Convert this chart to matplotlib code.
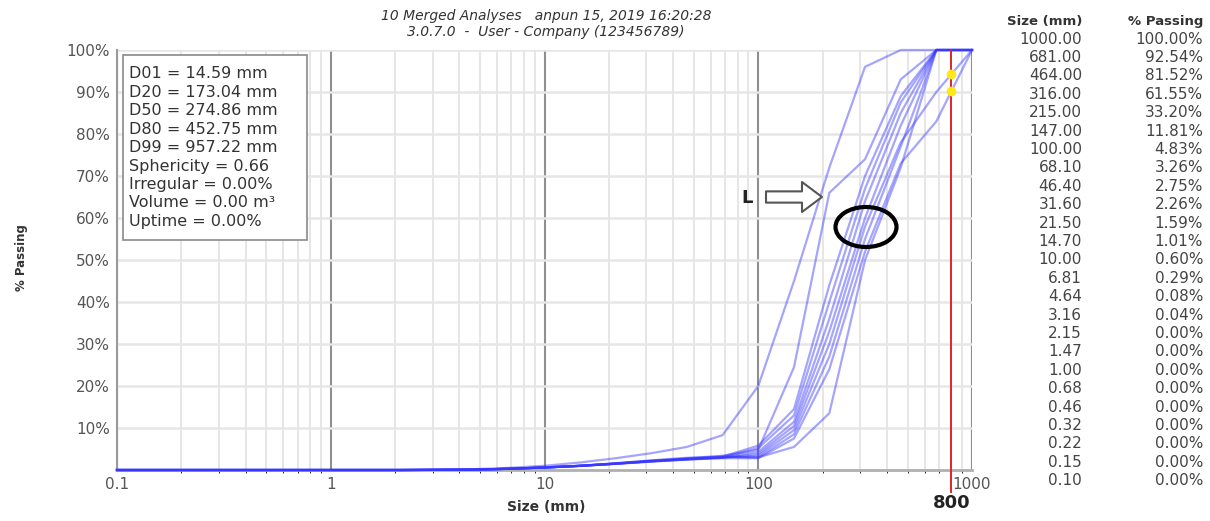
import numpy as np
import matplotlib
matplotlib.use("Agg")
from matplotlib import pyplot as plt
from matplotlib.patches import Rectangle, Ellipse

# sieve sizes (mm), fine to coarse
sizes = [0.10, 0.15, 0.22, 0.32, 0.46, 0.68, 1.00, 1.47, 2.15, 3.16, 4.64, 6.81,
         10.0, 14.7, 21.5, 31.6, 46.4, 68.1, 100, 147, 215, 316, 464, 681, 1000]

# % passing for each of the merged analyses (same order as sizes)
zero_tail = [0, 0, 0, 0, 0, 0, 0, 0, 0]
curve_a = zero_tail + [0.10, 0.20, 0.50, 1.00, 1.80, 2.80, 4.00, 5.50, 8.30, 20.0, 45.0, 72.0, 96.0, 100, 100, 100]
curve_b = zero_tail + [0.04, 0.10, 0.30, 0.60, 1.00, 1.60, 2.20, 2.80, 3.40, 4.80, 24.5, 66.0, 74.0, 93.0, 100, 100]
curve_c = zero_tail + [0.04, 0.08, 0.30, 0.60, 1.00, 1.50, 2.10, 2.60, 3.20, 5.80, 14.5, 44.0, 70.0, 89.0, 100, 100]
curve_d = zero_tail + [0.03, 0.07, 0.28, 0.55, 0.95, 1.45, 2.00, 2.50, 3.00, 5.20, 13.0, 40.0, 67.0, 87.5, 100, 100]
curve_e = zero_tail + [0.04, 0.08, 0.30, 0.60, 1.00, 1.50, 2.10, 2.60, 3.00, 4.30, 11.5, 36.0, 64.0, 85.0, 100, 100]
curve_f = zero_tail + [0.04, 0.08, 0.30, 0.60, 1.00, 1.50, 2.00, 2.50, 2.90, 3.80, 10.5, 33.0, 60.0, 82.0, 100, 100]
curve_g = zero_tail + [0.04, 0.08, 0.29, 0.58, 0.98, 1.50, 2.10, 2.60, 3.00, 3.40, 9.50, 30.0, 58.0, 78.0, 90.0, 100]
curve_h = zero_tail + [0.04, 0.08, 0.30, 0.60, 1.00, 1.55, 2.20, 2.70, 3.10, 3.00, 8.50, 27.0, 55.0, 77.0, 100, 100]
curve_i = zero_tail + [0.04, 0.08, 0.30, 0.60, 1.00, 1.50, 2.10, 2.50, 2.80, 2.80, 7.50, 24.0, 52.0, 73.0, 83.0, 100]
curve_j = zero_tail + [0.04, 0.08, 0.29, 0.60, 1.00, 1.60, 2.30, 2.90, 3.20, 3.00, 5.50, 13.5, 50.0, 72.0, 100, 100]
curves = [curve_a, curve_b, curve_c, curve_d, curve_e, curve_f, curve_g, curve_h, curve_i, curve_j]

# merged result table
table_sizes = ["1000.00", "681.00", "464.00", "316.00", "215.00", "147.00", "100.00",
               "68.10", "46.40", "31.60", "21.50", "14.70", "10.00", "6.81", "4.64",
               "3.16", "2.15", "1.47", "1.00", "0.68", "0.46", "0.32", "0.22", "0.15", "0.10"]
table_pass = ["100.00%", "92.54%", "81.52%", "61.55%", "33.20%", "11.81%", "4.83%",
              "3.26%", "2.75%", "2.26%", "1.59%", "1.01%", "0.60%", "0.29%", "0.08%",
              "0.04%", "0.00%", "0.00%", "0.00%", "0.00%", "0.00%", "0.00%", "0.00%",
              "0.00%", "0.00%"]

stats = ["D01 = 14.59 mm", "D20 = 173.04 mm", "D50 = 274.86 mm", "D80 = 452.75 mm",
         "D99 = 957.22 mm", "Sphericity = 0.66", "Irregular = 0.00%",
         "Volume = 0.00 m\u00b3", "Uptime = 0.00%"]

cutoff = 800

W, H = 1210, 521
fig = plt.figure(figsize=(W / 100, H / 100), dpi=100)
fig.patch.set_facecolor("white")
ax = fig.add_axes([117 / W, 1 - 470 / H, 855 / W, 420 / H])

def fx(px):
    return px / W

def fy(py):
    return 1 - py / H

for c in curves:
    ax.plot(sizes, c, color=(0.22, 0.22, 1.0), alpha=0.45, lw=1.6, clip_on=False, zorder=3)

# cut-off line and where curves cross it
ax.plot([cutoff, cutoff], [-5.2, 100], color="#e02424", lw=1.4, clip_on=False, zorder=4)
logs = np.log10(sizes)
for c in curves:
    v = np.interp(np.log10(cutoff), logs, c)
    if v < 99.9:
        ax.plot(cutoff, v, "o", color="#ffe81a", ms=7, mec="none", zorder=5, clip_on=False)
ax.text(cutoff, -7.8, str(cutoff), ha="center", va="center", fontsize=13,
        fontweight="bold", color="#222222")

ax.set_xscale("log")
ax.set_xlim(0.1, 1000)
ax.set_ylim(0, 100)
ax.set_xticks([0.1, 1, 10, 100, 1000])
ax.set_xticklabels(["0.1", "1", "10", "100", "1000"])
ax.set_yticks(range(10, 101, 10))
ax.set_yticklabels(["%d%%" % v for v in range(10, 101, 10)])
ax.tick_params(length=0, labelsize=11, colors="#555555", pad=5)

ax.grid(which="minor", axis="x", color="#e2e2e2", lw=1.2)
ax.grid(which="major", axis="x", color="#8f8f8f", lw=1.5)
ax.grid(which="major", axis="y", color="#e6e6e6", lw=1.8)
ax.set_axisbelow(True)
for s in ["top", "right"]:
    ax.spines[s].set_visible(False)
ax.spines["left"].set_color("#9a9a9a")
ax.spines["left"].set_linewidth(1.5)
ax.spines["bottom"].set_color("#b0b0b0")
ax.spines["bottom"].set_linewidth(2)
ax.axvline(1000, color="#c8c8c8", lw=1.5, zorder=0)

# annotations
ax.annotate("", xy=(fx(822), fy(197)), xytext=(fx(766), fy(197)),
            xycoords="figure fraction", textcoords="figure fraction",
            arrowprops=dict(arrowstyle="simple,head_length=0.8,head_width=1.2,tail_width=0.45",
                            fc="white", ec="#555555", lw=1.5, mutation_scale=18, shrinkA=0, shrinkB=0))
fig.text(fx(747), fy(198), "L", ha="center", va="center", fontsize=13,
         fontweight="bold", color="#222222")
fig.patches.append(Ellipse((fx(866), fy(227)), 61 / W, 40 / H, transform=fig.transFigure,
                           fill=False, ec="black", lw=3, zorder=6))

# stats box
fig.patches.append(Rectangle((fx(123), fy(240)), (307 - 123) / W, (240 - 55) / H,
                             transform=fig.transFigure, fc="white", ec="#8a8a8a",
                             lw=1.2, zorder=5))
for i, line in enumerate(stats):
    fig.text(fx(129), fy(74 + i * 18.4), line, ha="left", va="center",
             fontsize=11.5, color="#333333", zorder=6)

# titles and axis labels
fig.text(fx(546), fy(16), "10 Merged Analyses   anpun 15, 2019 16:20:28", ha="center",
         va="center", fontsize=10, style="italic", color="#333333")
fig.text(fx(546), fy(32), "3.0.7.0  -  User - Company (123456789)", ha="center",
         va="center", fontsize=10, style="italic", color="#333333")
fig.text(fx(546), fy(507), "Size (mm)", ha="center", va="center", fontsize=10,
         fontweight="bold", color="#333333")
fig.text(fx(22), fy(258), "% Passing", ha="center", va="center", fontsize=8.5,
         fontweight="bold", color="#333333", rotation=90)

# result table
fig.text(fx(1082), fy(21), "Size (mm)", ha="right", va="center", fontsize=9.5,
         fontweight="bold", color="#333333")
fig.text(fx(1203), fy(21), "% Passing", ha="right", va="center", fontsize=9.5,
         fontweight="bold", color="#333333")
for i, (s, p) in enumerate(zip(table_sizes, table_pass)):
    y = fy(39 + i * 18.4)
    fig.text(fx(1082), y, s, ha="right", va="center", fontsize=11, color="#444444")
    fig.text(fx(1203), y, p, ha="right", va="center", fontsize=11, color="#444444")

plt.savefig("out.png", dpi=100, facecolor="white")
